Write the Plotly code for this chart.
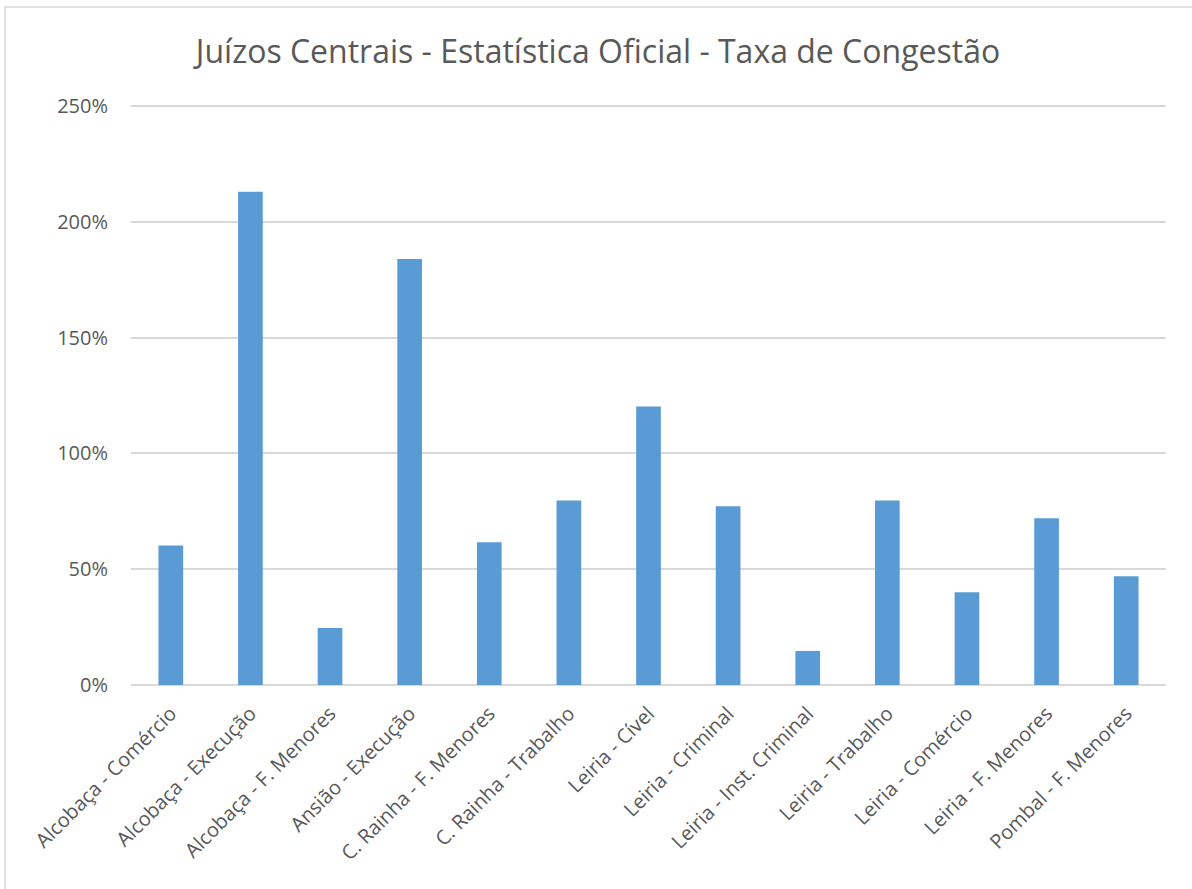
import plotly.graph_objects as go

categories = [
    "Alcobaça - Comércio", "Alcobaça - Execução", "Alcobaça - F. Menores",
    "Ansião - Execução", "C. Rainha - F. Menores", "C. Rainha - Trabalho",
    "Leiria - Cível", "Leiria - Criminal", "Leiria - Inst. Criminal",
    "Leiria - Trabalho", "Leiria - Comércio", "Leiria - F. Menores",
    "Pombal - F. Menores",
]
values = [0.603, 2.13, 0.246, 1.84, 0.616, 0.797, 1.203, 0.772, 0.147, 0.797, 0.401, 0.72, 0.47]
y_ticks = [0, 0.5, 1.0, 1.5, 2.0, 2.5]
y_tick_labels = ["0%", "50%", "100%", "150%", "200%", "250%"]

W, H = 1192, 889
ml, mr, mt, mb = 131, 26, 105, 204
pw, ph = W - ml - mr, H - mt - mb

fig = go.Figure(go.Bar(
    x=categories, y=values,
    marker=dict(color="#5b9bd5", line=dict(width=0)),
))

fig.update_layout(
    width=W, height=H,
    margin=dict(l=ml, r=mr, t=mt, b=mb),
    paper_bgcolor="white", plot_bgcolor="white",
    bargap=0.69,
    showlegend=False,
    title=dict(
        text="Juízos Centrais - Estatística Oficial - Taxa de Congestão",
        x=598 / W, xref="container", xanchor="center",
        y=1 - 52 / H, yref="container", yanchor="middle",
        font=dict(family="Open Sans", size=32, color="#595959"),
    ),
    font=dict(family="Open Sans", color="#595959", size=20),
    xaxis=dict(
        tickangle=-45, showgrid=False, showline=False, ticks="",
        ticklabelstandoff=12,
        tickfont=dict(size=20, color="#595959"),
    ),
    yaxis=dict(
        range=[0, 2.505], tickvals=y_ticks, ticktext=y_tick_labels,
        showgrid=True, gridcolor="#d9d9d9", gridwidth=1.5,
        zeroline=True, zerolinecolor="#d9d9d9", zerolinewidth=1.5,
        showline=False, ticks="", ticklabelstandoff=22,
        tickfont=dict(size=20, color="#595959"),
    ),
    shapes=[dict(
        type="rect", xref="paper", yref="paper",
        x0=(5 - ml) / pw, x1=(W + 10 - ml) / pw,
        y0=-(mb + 10) / ph,
        y1=1 + (mt - 7) / ph,
        line=dict(color="#d9d9d9", width=1.5),
        fillcolor="rgba(0,0,0,0)", layer="below",
    )],
)

fig.write_html(
    "out.html",
    config={"displayModeBar": False},
    post_script="document.body.style.margin='0';document.body.style.overflow='hidden';",
)
